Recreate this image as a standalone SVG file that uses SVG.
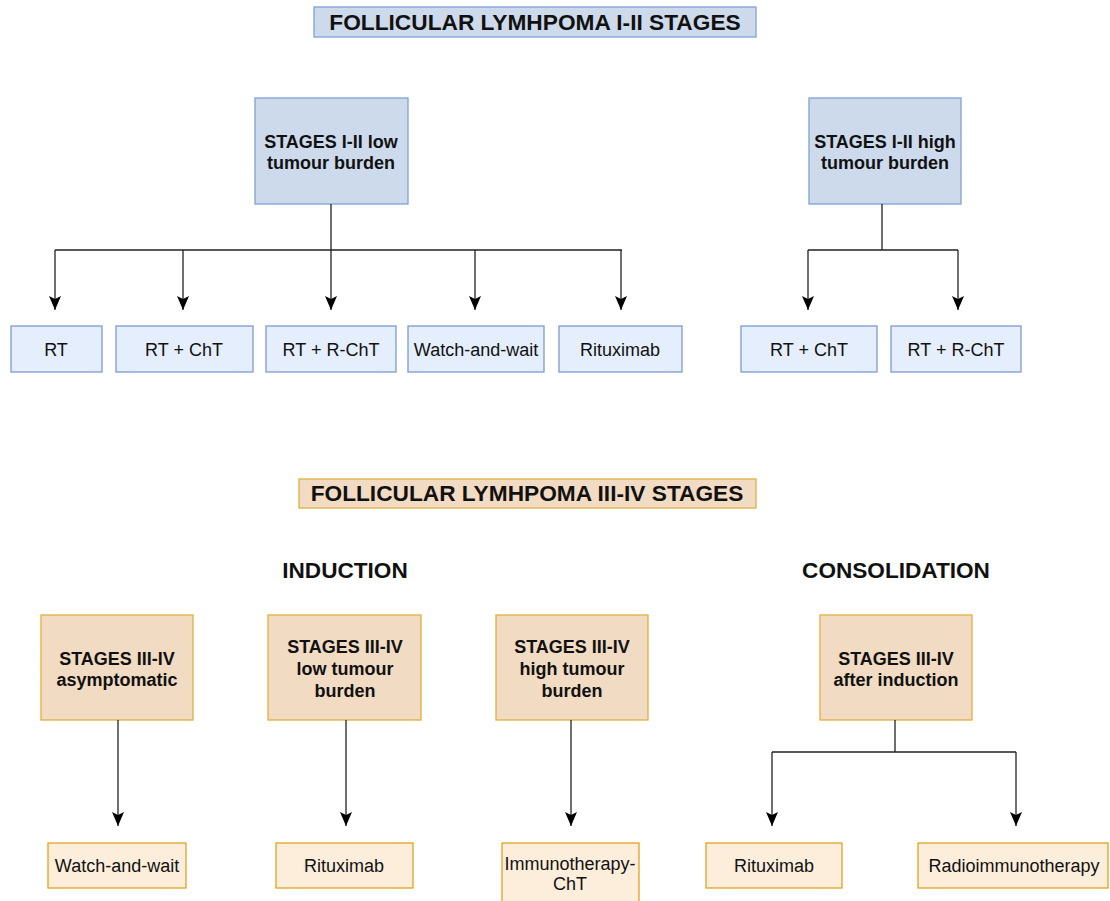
<svg xmlns="http://www.w3.org/2000/svg" width="1110" height="901" viewBox="0 0 1110 901">
<defs>
<marker id="arr" viewBox="0 0 14 12" refX="14" refY="6" markerWidth="14" markerHeight="12" markerUnits="userSpaceOnUse" orient="auto">
<path d="M0,0 L14,6 L0,12 L3,6 Z" fill="#000"/>
</marker>
</defs>
<style>
text{font-family:"Liberation Sans",Arial,sans-serif;fill:#111;text-anchor:middle}
.t{font-size:22.7px;font-weight:bold}
.h{font-size:22.6px;font-weight:bold}
.b{font-size:18px;font-weight:bold}
.n{font-size:18px}
.bt{fill:#CDDAEC;stroke:#7EA1D6;stroke-width:1.3}
.bs{fill:#CDDAEC;stroke:#7EA1D6;stroke-width:1.3}
.bl{fill:#E5EEFC;stroke:#7C9BD0;stroke-width:1.3}
.ot{fill:#F2DBC3;stroke:#E0B040;stroke-width:1.3}
.os{fill:#F2DBC3;stroke:#E0B040;stroke-width:1.3}
.ol{fill:#FDEEDC;stroke:#E3A21F;stroke-width:1.3}
.c{fill:none;stroke:#222;stroke-width:1.3}
.ca{fill:none;stroke:#222;stroke-width:1.3;marker-end:url(#arr)}
</style>
<rect width="1110" height="901" fill="#fff"/>

<g id="title1"><rect class="bt" x="314" y="7" width="442" height="30"/><text class="t" x="535" y="30">FOLLICULAR LYMHPOMA I-II STAGES</text></g>
<g id="s12low"><rect class="bs" x="255" y="98" width="153" height="106"/><text class="b" x="331" y="148">STAGES I-II low</text><text class="b" x="331" y="169">tumour burden</text></g>
<g id="s12high"><rect class="bs" x="809" y="98" width="152" height="106"/><text class="b" x="885" y="148">STAGES I-II high</text><text class="b" x="885" y="169">tumour burden</text></g>

<g id="l_rt"><rect class="bl" x="11" y="326" width="91" height="46"/><text class="n" x="56" y="356">RT</text></g>
<g id="l_rtcht"><rect class="bl" x="116" y="326" width="137" height="46"/><text class="n" x="184" y="356">RT + ChT</text></g>
<g id="l_rtrcht"><rect class="bl" x="266" y="326" width="130" height="46"/><text class="n" x="331" y="356">RT + R-ChT</text></g>
<g id="l_ww"><rect class="bl" x="408" y="326" width="136" height="46"/><text class="n" x="476" y="356">Watch-and-wait</text></g>
<g id="l_rit"><rect class="bl" x="559" y="326" width="123" height="46"/><text class="n" x="620" y="356">Rituximab</text></g>
<g id="r_rtcht"><rect class="bl" x="741" y="326" width="136" height="46"/><text class="n" x="809" y="356">RT + ChT</text></g>
<g id="r_rtrcht"><rect class="bl" x="891" y="326" width="130" height="46"/><text class="n" x="956" y="356">RT + R-ChT</text></g>

<g id="title2"><rect class="ot" x="299" y="479" width="457" height="29"/><text class="t" x="527" y="501">FOLLICULAR LYMHPOMA III-IV STAGES</text></g>
<g id="induction"><text class="h" x="345" y="578">INDUCTION</text></g>
<g id="consolidation"><text class="h" x="896" y="578">CONSOLIDATION</text></g>

<g id="s34asym"><rect class="os" x="41" y="615" width="152" height="105"/><text class="b" x="117" y="665">STAGES III-IV</text><text class="b" x="117" y="686">asymptomatic</text></g>
<g id="s34low"><rect class="os" x="268" y="615" width="153" height="105"/><text class="b" x="345" y="653">STAGES III-IV</text><text class="b" x="345" y="675">low tumour</text><text class="b" x="345" y="697">burden</text></g>
<g id="s34high"><rect class="os" x="496" y="615" width="152" height="105"/><text class="b" x="572" y="653">STAGES III-IV</text><text class="b" x="572" y="675">high tumour</text><text class="b" x="572" y="697">burden</text></g>
<g id="s34after"><rect class="os" x="820" y="615" width="152" height="105"/><text class="b" x="896" y="665">STAGES III-IV</text><text class="b" x="896" y="686">after induction</text></g>

<g id="b_ww"><rect class="ol" x="48" y="843" width="138" height="45"/><text class="n" x="117" y="872">Watch-and-wait</text></g>
<g id="b_rit"><rect class="ol" x="276" y="843" width="137" height="45"/><text class="n" x="344" y="872">Rituximab</text></g>
<g id="b_imm"><rect class="ol" x="502" y="843" width="137" height="60"/><text class="n" x="570" y="870">Immunotherapy-</text><text class="n" x="570" y="890">ChT</text></g>
<g id="b_rit2"><rect class="ol" x="706" y="843" width="136" height="45"/><text class="n" x="774" y="872">Rituximab</text></g>
<g id="b_rad"><rect class="ol" x="918" y="843" width="190" height="45"/><text class="n" x="1014" y="872">Radioimmunotherapy</text></g>

<g id="connectors">
<path class="c" d="M331,204 V250 M55,250 H622"/>
<path class="ca" d="M55,250 V310"/>
<path class="ca" d="M183,250 V310"/>
<path class="ca" d="M331,250 V310"/>
<path class="ca" d="M475,250 V310"/>
<path class="ca" d="M621,250 V310"/>
<path class="c" d="M882,204 V250 M808,250 H958"/>
<path class="ca" d="M808,250 V310"/>
<path class="ca" d="M958,250 V310"/>
<path class="ca" d="M118,720 V826"/>
<path class="ca" d="M346,720 V826"/>
<path class="ca" d="M571,720 V826"/>
<path class="c" d="M895,720 V752 M772,752 H1016"/>
<path class="ca" d="M772,752 V826"/>
<path class="ca" d="M1016,752 V826"/>
</g>
</svg>
